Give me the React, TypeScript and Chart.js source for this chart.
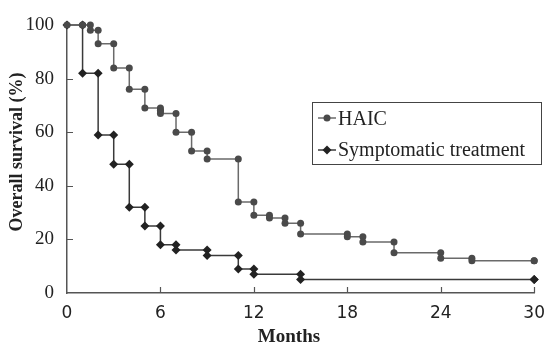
import React, { useEffect, useRef } from "react";
import { Chart, registerables } from "chart.js";

Chart.register(...registerables);

// ---- data ----
const haicMonths = [0, 1, 1.5, 2, 3, 4, 5, 6, 6, 7, 8, 9, 11, 12, 13, 14, 15, 18, 19, 21, 24, 26, 30];
const haicSurvival = [100, 100, 98, 93, 84, 76, 69, 68, 67, 60, 53, 50, 34, 29, 28, 26, 22, 21, 19, 15, 13, 12, 12];
const symptomaticMonths = [0, 1, 2, 3, 4, 5, 6, 7, 9, 11, 12, 15, 30];
const symptomaticSurvival = [100, 82, 59, 48, 32, 25, 18, 16, 14, 9, 7, 5, 5];
const xTickValues = [0, 6, 12, 18, 24, 30];
const yTickValues = [0, 20, 40, 60, 80, 100];
const seriesLabels = ["HAIC", "Symptomatic treatment"];
const xTitle = "Months";
const yTitle = "Overall survival (%)";

type Pt = { x: number; y: number };

// Kaplan–Meier step: a point before and after each drop
function kmPoints(months: number[], survival: number[]): Pt[] {
  const pts: Pt[] = [];
  months.forEach((m, i) => {
    if (i > 0) pts.push({ x: m, y: survival[i - 1] });
    pts.push({ x: m, y: survival[i] });
  });
  return pts;
}

const HAIC_LINE = "#6a6a6a";
const HAIC_MARK = "#4a4a4a";
const SYM_LINE = "#3a3a3a";
const SYM_MARK = "#222222";

const decorPlugin = {
  id: "decor",
  afterDraw(chart: any) {
    const { ctx, chartArea, scales } = chart;
    const xs = scales.x;
    const ys = scales.y;
    ctx.save();
    // inward tick marks
    ctx.strokeStyle = "#555";
    ctx.lineWidth = 1.2;
    ctx.beginPath();
    yTickValues.forEach((v) => {
      if (v === 0 || v === 100) return;
      const py = Math.round(ys.getPixelForValue(v)) + 0.5;
      ctx.moveTo(chartArea.left, py);
      ctx.lineTo(chartArea.left + 6, py);
    });
    xTickValues.forEach((v) => {
      if (v === 0) return;
      const px = Math.round(xs.getPixelForValue(v)) + 0.5;
      ctx.moveTo(px, chartArea.bottom);
      ctx.lineTo(px, chartArea.bottom - 6);
    });
    ctx.stroke();

    // axis titles
    ctx.fillStyle = "#222";
    ctx.textAlign = "center";
    ctx.textBaseline = "middle";
    ctx.font = "bold 19px 'Liberation Serif'";
    ctx.fillText(xTitle, chartArea.left + 222, chart.height - 9);
    ctx.save();
    ctx.translate(17, (chartArea.top + chartArea.bottom) / 2 - 7);
    ctx.rotate(-Math.PI / 2);
    ctx.font = "bold 18px 'Liberation Serif'";
    ctx.fillText(yTitle, 0, 0);
    ctx.restore();

    // legend box
    const bx = 312, by = 102, bw = 229, bh = 62;
    ctx.fillStyle = "#fff";
    ctx.fillRect(bx, by, bw, bh);
    ctx.strokeStyle = "#444";
    ctx.lineWidth = 1;
    ctx.strokeRect(bx + 0.5, by + 0.5, bw, bh);

    const rows = [
      { y: 118, base: 125, line: HAIC_LINE, mark: HAIC_MARK, style: "circle" },
      { y: 150, base: 156, line: SYM_LINE, mark: SYM_MARK, style: "diamond" },
    ];
    rows.forEach((r, i) => {
      ctx.strokeStyle = r.line;
      ctx.lineWidth = 1.5;
      ctx.beginPath();
      ctx.moveTo(318, r.y);
      ctx.lineTo(336, r.y);
      ctx.stroke();
      ctx.fillStyle = r.mark;
      ctx.beginPath();
      if (r.style === "circle") {
        ctx.arc(327, r.y, 3.5, 0, Math.PI * 2);
      } else {
        ctx.moveTo(327, r.y - 4.5);
        ctx.lineTo(331.5, r.y);
        ctx.lineTo(327, r.y + 4.5);
        ctx.lineTo(322.5, r.y);
        ctx.closePath();
      }
      ctx.fill();
      ctx.fillStyle = "#222";
      ctx.textAlign = "left";
      ctx.textBaseline = "alphabetic";
      ctx.font = "20px 'Liberation Serif'";
      ctx.fillText(seriesLabels[i], 338, r.base);
    });
    ctx.restore();
  },
};

export default function App() {
  const canvasRef = useRef<HTMLCanvasElement | null>(null);

  useEffect(() => {
    if (!canvasRef.current) return;
    const chart = new Chart(canvasRef.current, {
      type: "line",
      data: {
        datasets: [
          {
            label: seriesLabels[0],
            data: kmPoints(haicMonths, haicSurvival),
            borderColor: HAIC_LINE,
            borderWidth: 1.5,
            pointStyle: "circle",
            pointRadius: 3.5,
            pointBackgroundColor: HAIC_MARK,
            pointBorderColor: HAIC_MARK,
            pointBorderWidth: 0,
            tension: 0,
            fill: false,
            clip: false,
          } as any,
          {
            label: seriesLabels[1],
            data: kmPoints(symptomaticMonths, symptomaticSurvival),
            borderColor: SYM_LINE,
            borderWidth: 1.5,
            pointStyle: "rectRot",
            pointRadius: 4.5,
            pointBackgroundColor: SYM_MARK,
            pointBorderColor: SYM_MARK,
            pointBorderWidth: 0,
            tension: 0,
            fill: false,
            clip: false,
          } as any,
        ],
      },
      options: {
        animation: false,
        responsive: false,
        devicePixelRatio: 1,
        layout: { padding: { left: 0, right: 11, top: 25, bottom: 0 } },
        plugins: {
          legend: { display: false },
          tooltip: { enabled: false },
        },
        scales: {
          x: {
            type: "linear",
            min: 0,
            max: 30,
            afterBuildTicks: (s: any) => {
              s.ticks = xTickValues.map((v) => ({ value: v }));
            },
            afterFit: (s: any) => {
              s.height = 53;
            },
            grid: { display: false, drawTicks: false },
            border: { display: true, color: "#555", width: 1.5 },
            ticks: {
              padding: 10,
              color: "#222",
              maxRotation: 0,
              autoSkip: false,
              font: { family: "'DejaVu Sans'", size: 17 },
            },
          },
          y: {
            type: "linear",
            min: 0,
            max: 100,
            afterBuildTicks: (s: any) => {
              s.ticks = yTickValues.map((v) => ({ value: v }));
            },
            afterFit: (s: any) => {
              s.width = 67;
            },
            grid: { display: false, drawTicks: false },
            border: { display: true, color: "#555", width: 1.5 },
            ticks: {
              padding: 13,
              color: "#222",
              font: { family: "'Liberation Serif'", size: 19 },
            },
          },
        },
      } as any,
      plugins: [decorPlugin],
    });
    return () => chart.destroy();
  }, []);

  return (
    <div style={{ position: "absolute", left: 0, top: 0, width: 555, height: 346, background: "#fff" }}>
      <canvas ref={canvasRef} width={555} height={346} style={{ display: "block" }} />
    </div>
  );
}
